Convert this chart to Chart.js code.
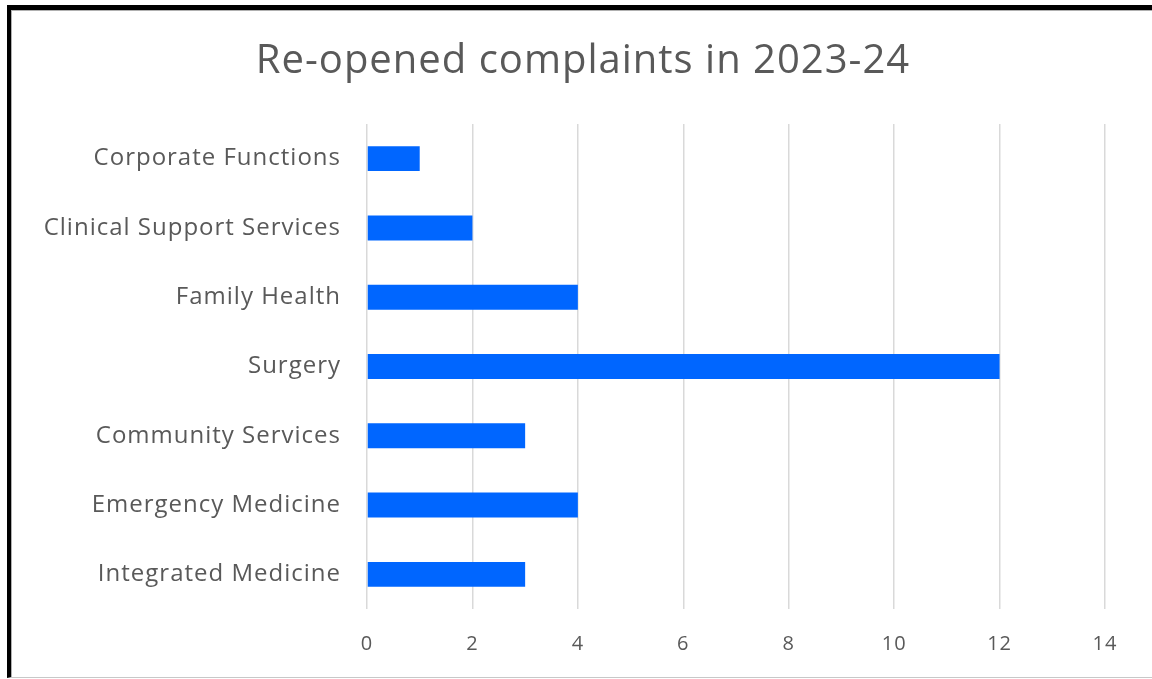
<!DOCTYPE html>
<html>
<head>
<meta charset="utf-8">
<title>Re-opened complaints in 2023-24</title>
<script src="https://cdn.jsdelivr.net/npm/chart.js@4/dist/chart.umd.min.js"></script>
<style>
  html, body {
    margin: 0;
    padding: 0;
    background: #fff;
    overflow: hidden;
  }
  .wrap {
    position: absolute;
    left: 0;
    top: 0;
    width: 1152px;
    height: 679px;
  }
  .frame {
    position: absolute;
    left: 7px;
    top: 5px;
    right: -10px;
    bottom: 1px;
    border-top: 5px solid #000;
    border-left: 4px solid #000;
    border-bottom: 1px solid #c8c8c8;
    box-shadow: inset 1px 1px 0 #b0b0b0;
    pointer-events: none;
  }
</style>
</head>
<body>
<div class="wrap">
  <canvas id="complaintsChart" width="1152" height="679"></canvas>
  <div class="frame"></div>
</div>
<script>
const categories = [
  "Corporate Functions",
  "Clinical Support Services",
  "Family Health",
  "Surgery",
  "Community Services",
  "Emergency Medicine",
  "Integrated Medicine",
];
const reopened = [1, 2, 4, 12, 3, 4, 3];
const xTicks = [0, 2, 4, 6, 8, 10, 12, 14];

const textGrey = "#595959";
const fontFamily = "'Open Sans', 'Noto Sans', sans-serif";

// slightly wider text spacing, and title centred over the whole canvas
const textTweaks = {
  id: "textTweaks",
  afterLayout(chart) {
    const t = chart.titleBlock;
    if (t) {
      const shift = (chart.width - (t.left + t.right)) / 2 + 7;
      t.left += shift;
      t.right += shift;
    }
  },
  beforeDraw(chart) {
    chart.ctx.letterSpacing = "1px";
  },
};

const ctx = document.getElementById("complaintsChart").getContext("2d");
new Chart(ctx, {
  type: "bar",
  data: {
    labels: categories,
    datasets: [
      {
        label: "Re-opened complaints",
        data: reopened,
        backgroundColor: "#0066ff",
        borderWidth: 0,
        categoryPercentage: 1,
        barPercentage: 0.36,
      },
    ],
  },
  plugins: [textTweaks],
  options: {
    indexAxis: "y",
    responsive: false,
    animation: false,
    layout: {
      padding: { top: 10, left: 12, right: 47, bottom: 0 },
    },
    plugins: {
      legend: { display: false },
      tooltip: { enabled: false },
      title: {
        display: true,
        text: "Re-opened complaints in 2023-24",
        color: textGrey,
        font: { family: fontFamily, size: 40, weight: "normal", lineHeight: 1.2 },
        padding: { top: 28, bottom: 38 },
      },
    },
    scales: {
      x: {
        min: 0,
        max: 14,
        afterBuildTicks: function (scale) {
          scale.ticks = xTicks.map((v) => ({ value: v }));
        },
        grid: {
          color: "#d9d9d9",
          lineWidth: 1.5,
          drawTicks: false,
        },
        border: { display: false },
        ticks: {
          color: textGrey,
          padding: 23,
          font: { family: fontFamily, size: 20 },
        },
      },
      y: {
        grid: { display: false, drawTicks: false },
        border: { display: false },
        ticks: {
          color: textGrey,
          padding: 26,
          font: { family: fontFamily, size: 24 },
        },
        afterFit: function (scale) {
          scale.width = 355;
        },
      },
    },
  },
});
</script>
</body>
</html>
